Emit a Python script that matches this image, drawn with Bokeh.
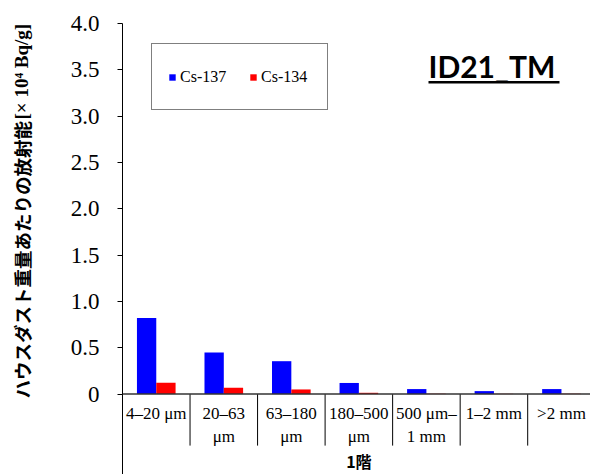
import math

from bokeh.core.properties import value
from bokeh.embed import file_html
from bokeh.layouts import row
from bokeh.models import (BoxAnnotation, ColumnDataSource, FixedTicker, Label,
                          Legend, LegendItem, Range1d, Span)
from bokeh.plotting import figure
from bokeh.resources import INLINE

# Particle-size fractions of the house dust sample (floor 1)
size_classes = ["4–20 μm", "20–63\nμm", "63–180\nμm", "180–500\nμm",
                "500 μm–\n1 mm", "1–2 mm", ">2 mm"]
group_label = "1階"

# Activity per dust mass [x 10^4 Bq/g]
cs137 = [0.82, 0.45, 0.355, 0.12, 0.054, 0.032, 0.054]
cs134 = [0.122, 0.068, 0.05, 0.014, 0.004, 0.003, 0.004]

y_ticks = [0, 0.5, 1.0, 1.5, 2.0, 2.5, 3.0, 3.5, 4.0]
y_tick_labels = ["0", "0.5", "1.0", "1.5", "2.0", "2.5", "3.0", "3.5", "4.0"]

y_title_main = "ハウスダスト重量あたりの放射能"
y_title_unit = " [× 10⁴ Bq/g]"
sample_id = "ID21_TM"

series_names = ["Cs-137", "Cs-134"]
series_colors = ["#0000FF", "#FF0000"]

n = len(size_classes)
centers = [i + 0.5 for i in range(n)]
bar_w = 0.286

src = ColumnDataSource(dict(
    center=centers,
    x137=[c - bar_w / 2 for c in centers],
    x134=[c + bar_w / 2 for c in centers],
    cs137=cs137,
    cs134=cs134,
    label=size_classes,
))

H = 474
TOP = 23         # space above the plotting area
LW = 45          # strip holding the rotated value-axis title
MW = 590 - LW    # main chart

# ---- rotated axis title strip (pixel-like ranges, origin at bottom) ----
lf = figure(width=LW, height=H, output_backend="svg", toolbar_location=None,
            x_range=Range1d(0, LW), y_range=Range1d(0, H - TOP),
            x_axis_location=None, y_axis_location=None,
            min_border_left=0, min_border_right=0,
            min_border_top=TOP, min_border_bottom=0)
lf.outline_line_color = None
lf.xgrid.visible = False
lf.ygrid.visible = False
lf.text(x=[21], y=[H - 398], text=[y_title_main], angle=math.pi / 2,
        text_font=value("Noto Sans CJK JP"), text_font_style="bold",
        text_font_size="18.5px", text_align="left",
        text_baseline="alphabetic", text_color="black")
lf.text(x=[21], y=[H - 119], text=[y_title_unit], angle=math.pi / 2,
        text_font=value("Liberation Serif"), text_font_style="bold",
        text_font_size="19px", text_align="left",
        text_baseline="alphabetic", text_color="black")

# ---- main chart ----
p = figure(width=MW, height=H, output_backend="svg", toolbar_location=None,
           x_range=Range1d(0, 6.93), y_range=Range1d(-0.868, 4.0),
           x_axis_location=None, min_border_left=122 - LW, min_border_top=TOP,
           min_border_bottom=0, min_border_right=0)
p.outline_line_color = None
p.xgrid.visible = False
p.ygrid.visible = False

# value axis
ya = p.yaxis[0]
ya.ticker = FixedTicker(ticks=y_ticks)
ya.major_label_overrides = {t: s for t, s in zip(y_ticks, y_tick_labels)}
ya.major_label_text_font = "Liberation Serif"
ya.major_label_text_font_size = "23px"
ya.major_label_text_color = "black"
ya.major_tick_out = 5
ya.major_tick_in = 0
ya.minor_tick_line_color = None
ya.major_label_standoff = 18
ya.axis_line_color = "black"
ya.major_tick_line_color = "black"

# bars
r137 = p.vbar(x="x137", top="cs137", width=bar_w, source=src,
              fill_color=series_colors[0], line_color=None)
r134 = p.vbar(x="x134", top="cs134", width=bar_w, source=src,
              fill_color=series_colors[1], line_color=None)

# category axis drawn below the zero line
p.add_layout(Span(location=0, dimension="width", line_color="#333333",
                  line_width=1.5))
p.segment(x0=list(range(1, n)), y0=[0] * (n - 1), x1=list(range(1, n)),
          y1=[-0.556] * (n - 1), line_color="black", line_width=1)
p.text(x="center", y=-0.112, text="label", source=src,
       text_font=value("Liberation Serif"), text_font_size="17px",
       text_align="center", text_baseline="top", text_line_height=1.2,
       text_color="black")
p.text(x=[n / 2], y=[-0.59], text=[group_label],
       text_font=value("Noto Sans CJK JP"), text_font_size="16px",
       text_font_style="bold", text_align="center", text_baseline="top",
       text_color="black")

# sample id, underlined
p.add_layout(Label(x=428 - 122, y=H - 65.5, x_units="screen", y_units="screen",
                   text=sample_id, text_font="Lato", text_font_style="bold",
                   text_font_size="30px", text_align="left",
                   text_baseline="alphabetic", text_color="black"))
p.add_layout(BoxAnnotation(left=428 - 122, right=559 - 122,
                           bottom=H - 83, top=H - 80.5,
                           left_units="screen", right_units="screen",
                           bottom_units="screen", top_units="screen",
                           fill_color="black", fill_alpha=1, line_color=None))

legend = Legend(items=[LegendItem(label=series_names[0], renderers=[r137]),
                       LegendItem(label=series_names[1], renderers=[r134])],
                orientation="horizontal", location=(29, H - 110),
                glyph_width=8, glyph_height=8, label_standoff=4, spacing=19,
                padding=16, margin=0, label_height=33, label_width=50,
                label_text_font="Liberation Serif", label_text_font_size="16px",
                label_text_color="black", border_line_color="black",
                border_line_width=1, background_fill_color="white",
                background_fill_alpha=1)
p.add_layout(legend)

layout = row(lf, p, spacing=0)
open("out.html", "w").write(file_html(layout, INLINE))
